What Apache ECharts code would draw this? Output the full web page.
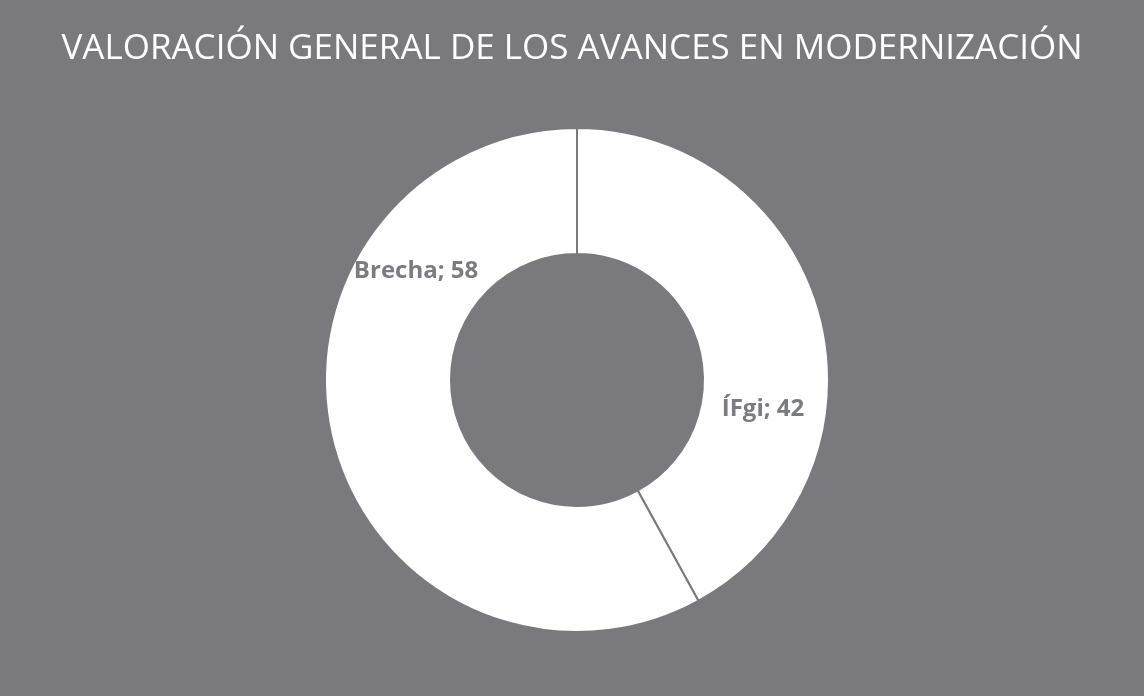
<!DOCTYPE html>
<html>
<head>
<meta charset="utf-8">
<script src="https://cdn.jsdelivr.net/npm/echarts@6/dist/echarts.min.js"></script>
<style>
html,body{margin:0;padding:0;background:#7a7a7e;}
#c{width:1144px;height:696px;}
</style>
</head>
<body>
<div id="c"></div>
<script>
const titleText = 'VALORACIÓN GENERAL DE LOS AVANCES EN MODERNIZACIÓN';
const categories = ['ÍFgi', 'Brecha'];
const values = [42, 58];
const labelOffsets = [[0, 77], [25, -157]];

const chart = echarts.init(document.getElementById('c'));
chart.setOption({
  backgroundColor: '#7a7a7e',
  title: {
    text: titleText,
    left: 'center',
    top: 27,
    textStyle: {
      color: '#ffffff',
      fontFamily: 'Open Sans',
      fontWeight: 'normal',
      fontSize: 35
    }
  },
  series: [{
    type: 'pie',
    center: [577, 380],
    radius: [126, 252],
    startAngle: 90,
    clockwise: true,
    silent: true,
    itemStyle: {
      color: '#ffffff',
      borderColor: '#7a7a7e',
      borderWidth: 2
    },
    label: {
      show: true,
      position: 'inside',
      formatter: '{b}; {c}',
      color: '#7b7b82',
      fontFamily: 'Open Sans',
      fontWeight: 'bold',
      fontSize: 24
    },
    labelLine: { show: false },
    data: categories.map((c, i) => ({
      name: c,
      value: values[i],
      label: { offset: labelOffsets[i] }
    }))
  }]
});
</script>
</body>
</html>
